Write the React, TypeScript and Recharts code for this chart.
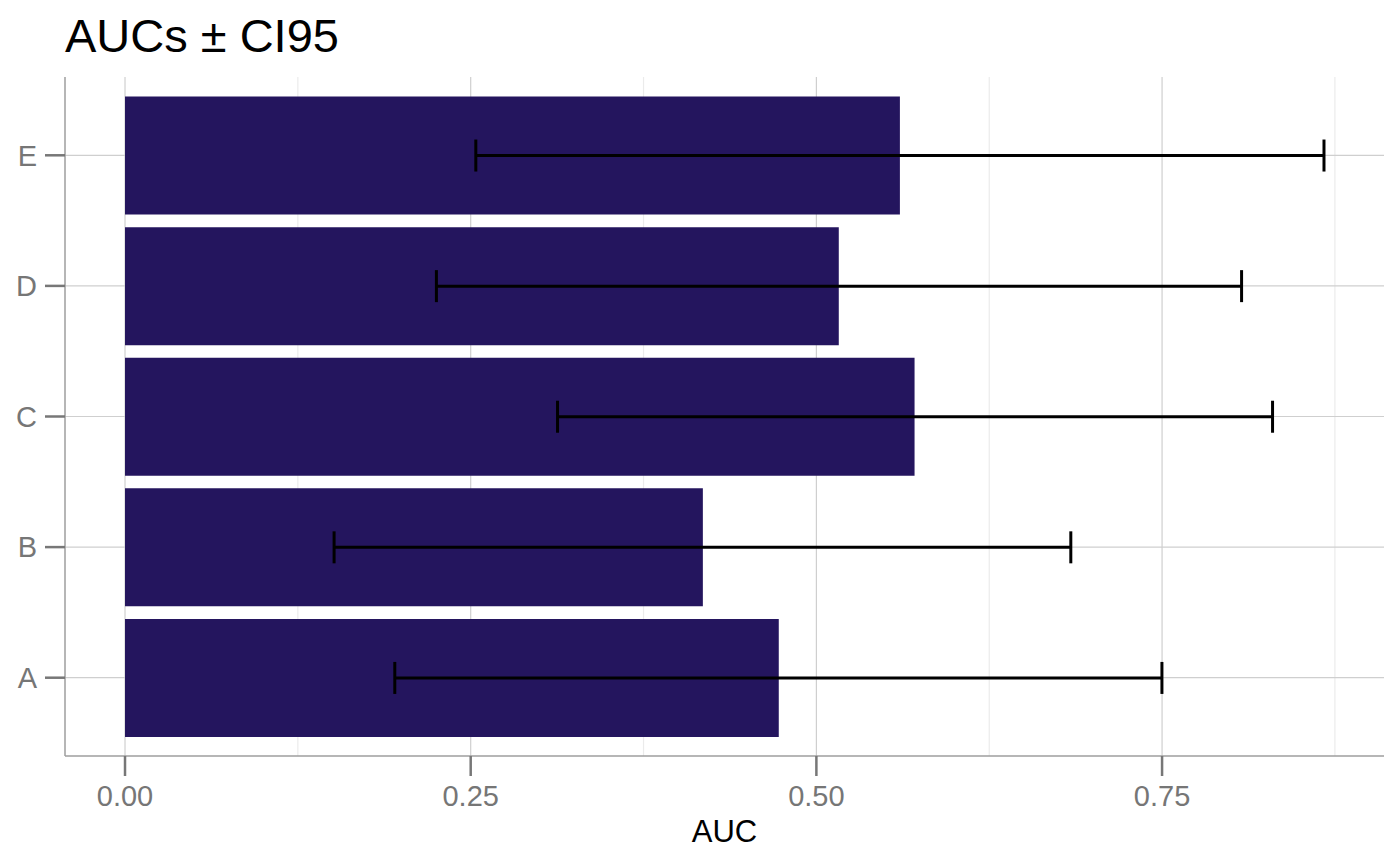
import React from "react";
import {
  BarChart,
  Bar,
  XAxis,
  YAxis,
  CartesianGrid,
  ErrorBar,
  Label,
} from "recharts";

// categories top to bottom, as drawn
const groups = ["E", "D", "C", "B", "A"];
const auc = [0.5604, 0.5162, 0.571, 0.4179, 0.4728];
const ciLow = [0.2537, 0.2252, 0.3128, 0.1512, 0.1951];
const ciHigh = [0.8671, 0.8075, 0.8299, 0.684, 0.7499];

const majorTicks = [0, 0.25, 0.5, 0.75];
const minorTicks = [0.125, 0.375, 0.625, 0.875];

const data = groups.map((g, i) => ({
  group: g,
  auc: auc[i],
  err: [auc[i] - ciLow[i], ciHigh[i] - auc[i]],
}));

const font = '"Liberation Sans", Arial, Helvetica, sans-serif';
const tickStyle = { fill: "#767676", fontSize: 29, fontFamily: font };

export default function App() {
  return (
    <div style={{ position: "absolute", left: 0, top: 0, width: 1400, height: 866, background: "#fff", fontFamily: font }}>
      <svg width={1400} height={70} style={{ position: "absolute", left: 0, top: 0 }}>
        <text x={65} y={52} fontSize={47} fontFamily={font} fill="#000">
          AUCs ± CI95
        </text>
      </svg>
      <BarChart
        width={1400}
        height={866}
        data={data}
        layout="vertical"
        margin={{ top: 77, right: 16, bottom: 0, left: 0 }}
        barCategoryGap="5%"
      >
        <CartesianGrid
          horizontal={false}
          verticalValues={minorTicks}
          syncWithTicks
          stroke="#ebebeb"
          strokeWidth={1.2}
        />
        <CartesianGrid syncWithTicks stroke="#cfcfcf" strokeWidth={1.2} />
        <XAxis
          type="number"
          domain={[-0.0434, 0.9105]}
          allowDataOverflow
          ticks={majorTicks}
          tickFormatter={(v: number) => v.toFixed(2)}
          height={110}
          tickSize={20}
          tickMargin={9}
          tick={tickStyle}
          tickLine={{ stroke: "#777", strokeWidth: 2.5 }}
          axisLine={{ stroke: "#9e9e9e", strokeWidth: 1.5 }}
        >
          <Label
            value="AUC"
            position="insideBottom"
            offset={24}
            style={{ fill: "#000", fontSize: 31, fontFamily: font }}
          />
        </XAxis>
        <YAxis
          type="category"
          dataKey="group"
          width={65}
          padding={{ top: 13, bottom: 13 }}
          tickSize={20}
          tickMargin={8}
          tick={tickStyle}
          tickLine={{ stroke: "#777", strokeWidth: 2.5 }}
          axisLine={{ stroke: "#9e9e9e", strokeWidth: 1.5 }}
        />
        <Bar dataKey="auc" fill="#24155e" isAnimationActive={false}>
          <ErrorBar
            dataKey="err"
            direction="x"
            width={16}
            stroke="#000"
            strokeWidth={3}
            isAnimationActive={false}
          />
        </Bar>
      </BarChart>
    </div>
  );
}
